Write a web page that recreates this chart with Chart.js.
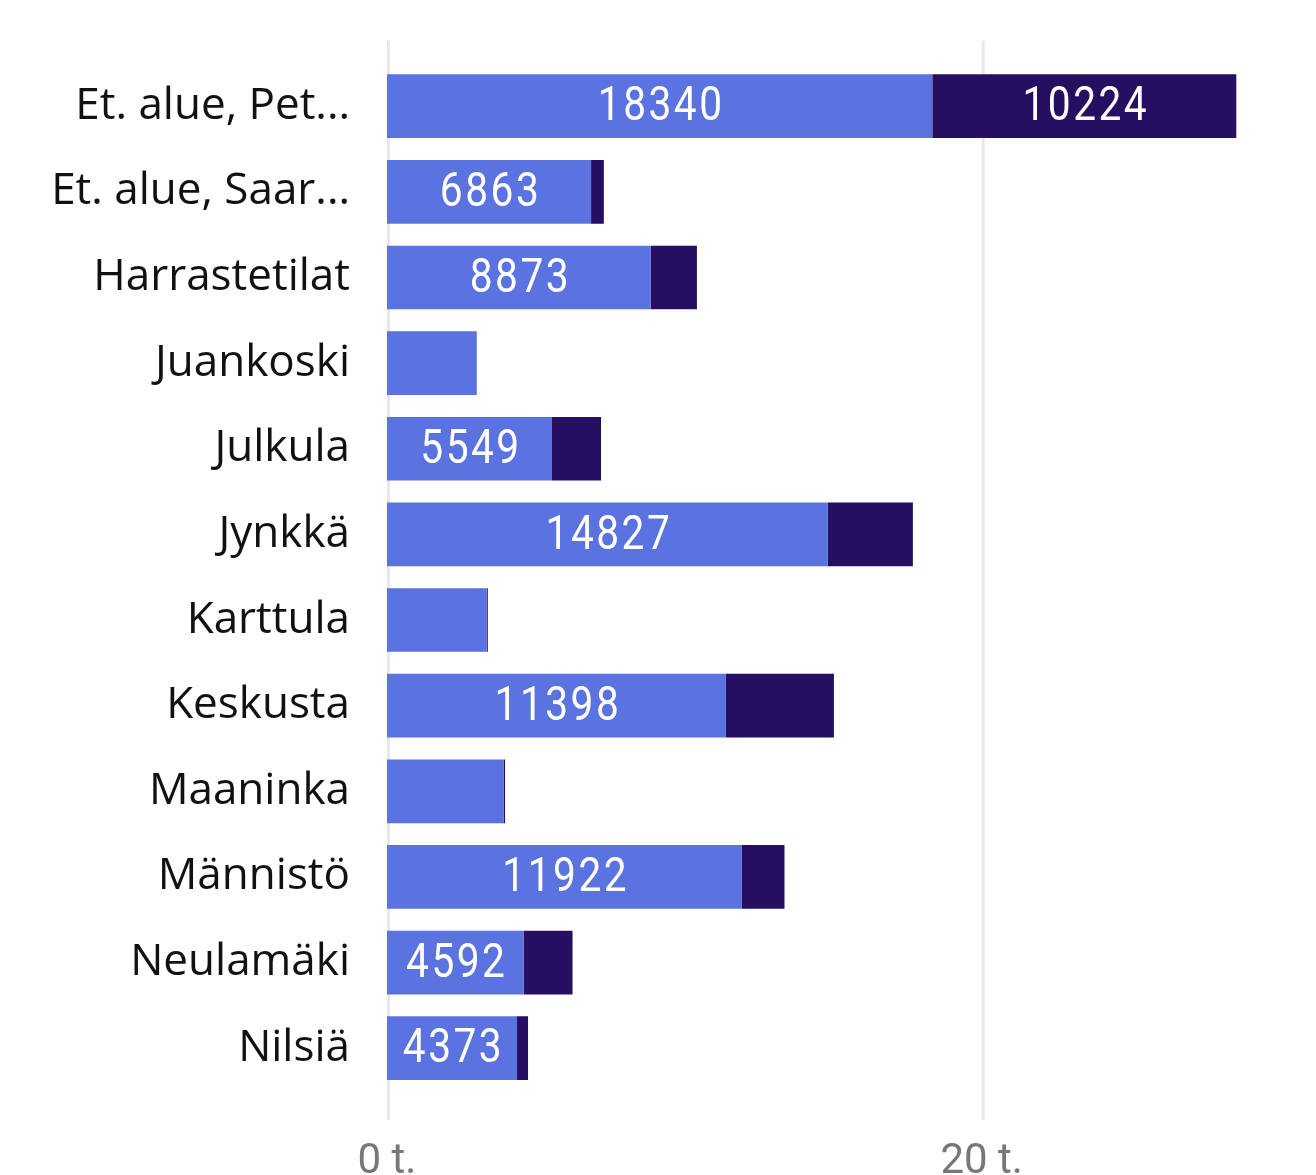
<!DOCTYPE html>
<html>
<head>
<meta charset="utf-8">
<script src="https://cdn.jsdelivr.net/npm/chart.js@4.4.1/dist/chart.umd.min.js"></script>
<style>
  html, body { margin: 0; padding: 0; background: #fff; overflow: hidden; }
  #wrap { width: 1316px; height: 1200px; }
</style>
</head>
<body>
<div id="wrap"><canvas id="chart" width="1316" height="1200"></canvas></div>
<script>
// data
const categories = ['Et. alue, Pet...', 'Et. alue, Saar...', 'Harrastetilat', 'Juankoski', 'Julkula',
  'Jynkkä', 'Karttula', 'Keskusta', 'Maaninka', 'Männistö', 'Neulamäki', 'Nilsiä'];
const seriesA = [18340, 6863, 8873, 3020, 5549, 14827, 3350, 11398, 3920, 11922, 4592, 4373];
const seriesB = [10224, 430, 1550, 0, 1648, 2860, 40, 3633, 50, 1446, 1648, 370];
const xTicks = [0, 20000];
const xTickLabels = ['0 t.', '20 t.'];

const colorA = '#5b73e0';
const colorB = '#260e60';

// vertical gridlines, a bit taller than the bar area
const gridPlugin = {
  id: 'grid',
  beforeDatasetsDraw(chart) {
    const { ctx, chartArea, scales } = chart;
    ctx.save();
    ctx.strokeStyle = '#e8e8e8';
    ctx.lineWidth = 3;
    xTicks.forEach(v => {
      const x = scales.x.getPixelForValue(v) + 1.5;
      ctx.beginPath();
      ctx.moveTo(x, chartArea.top - 23);
      ctx.lineTo(x, chartArea.bottom + 29);
      ctx.stroke();
    });
    ctx.restore();
  }
};

// white value labels inside segments, only when they fit
const labelPlugin = {
  id: 'segLabels',
  afterDatasetsDraw(chart) {
    const { ctx } = chart;
    const squeeze = 0.83;
    ctx.save();
    ctx.font = '49px Roboto';
    ctx.letterSpacing = '3px';
    ctx.fillStyle = '#fff';
    ctx.textAlign = 'center';
    ctx.textBaseline = 'middle';
    chart.data.datasets.forEach((ds, di) => {
      chart.getDatasetMeta(di).data.forEach((bar, i) => {
        const v = ds.data[i];
        if (!v) return;
        const txt = String(v);
        const w = ctx.measureText(txt).width * squeeze;
        const segW = Math.abs(bar.x - bar.base);
        if (segW < w + 24) return;
        const cx = (bar.x + bar.base) / 2 + 1.5;
        ctx.save();
        ctx.translate(cx, bar.y + 2);
        ctx.scale(squeeze, 1);
        ctx.fillText(txt, 0, 0);
        ctx.restore();
      });
    });
    ctx.restore();
  }
};

new Chart(document.getElementById('chart'), {
  type: 'bar',
  data: {
    labels: categories,
    datasets: [
      { data: seriesA, backgroundColor: colorA, borderWidth: 0 },
      { data: seriesB, backgroundColor: colorB, borderWidth: 0 }
    ]
  },
  options: {
    indexAxis: 'y',
    responsive: false,
    animation: false,
    events: [],
    layout: { padding: { top: 57, right: 37, left: 0, bottom: 0 } },
    datasets: { bar: { categoryPercentage: 1, barPercentage: 0.744 } },
    plugins: { legend: { display: false }, tooltip: { enabled: false } },
    scales: {
      x: {
        stacked: true,
        min: 0,
        max: 30000,
        border: { display: false },
        grid: { display: false, drawTicks: false },
        afterBuildTicks: s => { s.ticks = xTicks.map(v => ({ value: v })); },
        afterFit: s => { s.height = 109; },
        ticks: {
          padding: 46,
          color: '#777',
          font: { family: 'Roboto', size: 42 },
          callback: v => xTickLabels[xTicks.indexOf(v)]
        }
      },
      y: {
        stacked: true,
        border: { display: false },
        grid: { display: false, drawTicks: false },
        afterFit: s => { s.width = 387; },
        ticks: {
          padding: 37,
          color: '#111',
          font: { family: 'Open Sans', size: 44 }
        }
      }
    }
  },
  plugins: [gridPlugin, labelPlugin]
});
</script>
</body>
</html>
